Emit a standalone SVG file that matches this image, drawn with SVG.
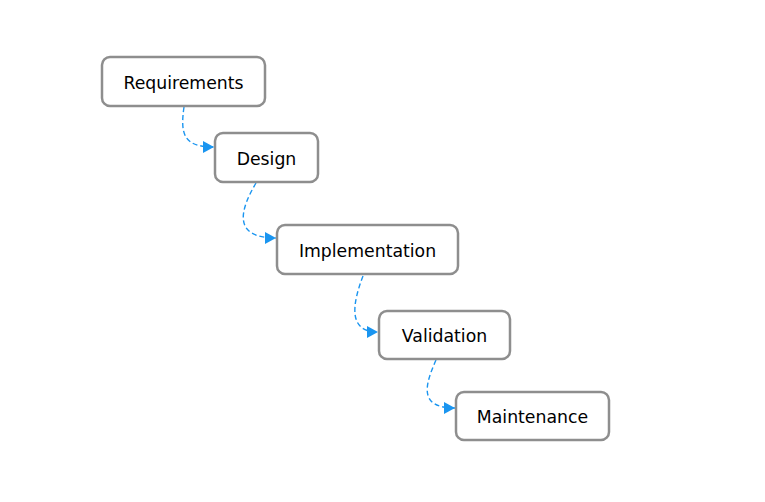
<svg xmlns="http://www.w3.org/2000/svg" width="765" height="502" viewBox="0 0 765 502">
<style>
.node rect{fill:#fff;stroke:#8e8e8e;stroke-width:2.5}
.node text{font-family:"DejaVu Sans",sans-serif;font-size:17.3px;fill:#000;text-anchor:middle;dominant-baseline:central}
.edge{fill:none;stroke:#1a95f0;stroke-width:1.4;stroke-dasharray:5,3;marker-end:url(#arr)}
</style>
<defs>
<marker id="arr" viewBox="0 0 11 12" refX="11" refY="6" markerWidth="11" markerHeight="12" markerUnits="userSpaceOnUse" orient="auto">
<path d="M0,0 L11,6 L0,12 Z" fill="#1a95f0"/>
</marker>
</defs>
<rect width="765" height="502" fill="#fff"/>
<g id="connectors">
<path class="edge" d="M184,107 C180,135 184,147 214,147"/>
<path class="edge" d="M256,183 C240,210 232,238 276,238"/>
<path class="edge" d="M363,276 C352,305 348,332 378,332"/>
<path class="edge" d="M436,360 C425,385 418,408 455,408"/>
</g>
<g id="requirements" class="node"><rect x="102" y="57" width="163" height="49" rx="8"/><text x="183.5" y="82.5">Requirements</text></g>
<g id="design" class="node"><rect x="215" y="133" width="103" height="49" rx="8"/><text x="266.5" y="158.5">Design</text></g>
<g id="implementation" class="node"><rect x="277" y="225" width="181" height="49" rx="8"/><text x="367.5" y="250.5">Implementation</text></g>
<g id="validation" class="node"><rect x="379" y="311" width="131" height="48" rx="8"/><text x="444.5" y="336">Validation</text></g>
<g id="maintenance" class="node"><rect x="456" y="392" width="153" height="48" rx="8"/><text x="532.5" y="417">Maintenance</text></g>
</svg>
